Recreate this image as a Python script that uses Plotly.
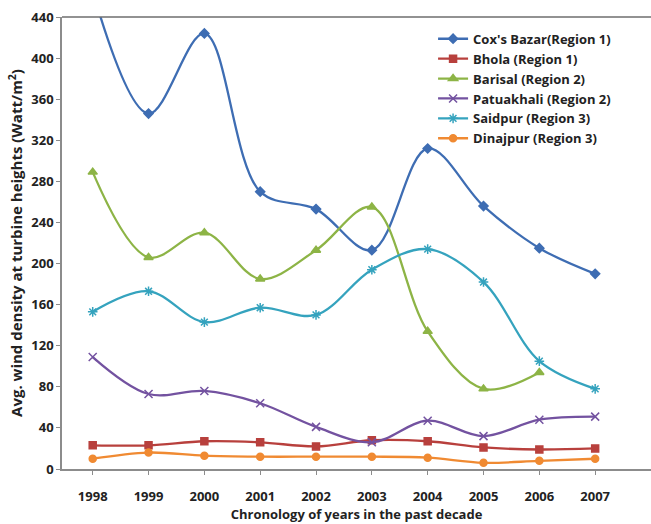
import plotly.graph_objects as go

years = [1998, 1999, 2000, 2001, 2002, 2003, 2004, 2005, 2006, 2007]

cox_bazar = [465, 346, 424, 270, 253, 213, 312, 256, 215, 190]
bhola = [23, 23, 27, 26, 22, 28, 27, 21, 19, 20]
barisal = [289, 206, 230, 185, 213, 255, 134, 78, 94, None]
patuakhali = [109, 73, 76, 64, 41, 26, 47, 32, 48, 51]
saidpur = [153, 173, 143, 157, 150, 194, 214, 182, 105, 78]
dinajpur = [10, 16, 13, 12, 12, 12, 11, 6, 8, 10]

y_ticks = list(range(0, 441, 40))

series = [
    ("Cox's Bazar(Region 1)", cox_bazar, "#3E6DB3", "diamond", 7),
    ("Bhola (Region 1)", bhola, "#B8403D", "square", 7),
    ("Barisal (Region 2)", barisal, "#8DB446", "triangle-up", 8),
    ("Patuakhali (Region 2)", patuakhali, "#7352A0", "x-thin-open", 8),
    ("Saidpur (Region 3)", saidpur, "#35A3BE", "asterisk-open", 8),
    ("Dinajpur (Region 3)", dinajpur, "#F08A32", "circle", 7),
]

fig = go.Figure()
for name, vals, color, symbol, size in series:
    fig.add_trace(go.Scatter(
        x=years, y=vals, name=name, mode="lines+markers",
        line=dict(color=color, width=2.3, shape="spline", smoothing=1.0),
        marker=dict(symbol=symbol, size=size, color=color,
                    line=dict(color=color, width=1.5)),
        connectgaps=False,
    ))

font_family = "Open Sans, Liberation Sans, Arial, sans-serif"
text_color = "#222222"

fig.update_layout(
    width=651, height=524,
    margin=dict(l=62, r=0, t=17, b=55),
    paper_bgcolor="white", plot_bgcolor="white",
    font=dict(family=font_family, size=13, color=text_color),
    showlegend=True,
    legend=dict(
        x=0.63, y=0.985, xanchor="left", yanchor="top",
        bgcolor="rgba(0,0,0,0)",
        font=dict(family=font_family, size=13, color=text_color, weight="bold"),
        tracegroupgap=0, itemwidth=30,
    ),
    xaxis=dict(
        range=[1997.45, 2008.0],
        tickmode="array", tickvals=years, ticktext=[str(y) for y in years],
        tickfont=dict(family=font_family, size=13, weight="bold", color=text_color),
        showgrid=False, zeroline=False,
        showline=True, linecolor="#8c8c8c", linewidth=1.5,
        ticks="outside", ticklen=4, tickcolor="#8c8c8c",
        ticklabelstandoff=11,
        title=dict(text="Chronology of years in the past decade",
                   font=dict(family=font_family, size=13, weight="bold", color=text_color),
                   standoff=0),
    ),
    yaxis=dict(
        range=[0, 440],
        tickmode="array", tickvals=y_ticks,
        tickfont=dict(family=font_family, size=13, weight="bold", color=text_color),
        showgrid=False, zeroline=False,
        showline=True, linecolor="#8c8c8c", linewidth=1.5,
        ticks="outside", ticklen=4, tickcolor="#8c8c8c",
        title=dict(text="Avg. wind density at turbine heights (Watt/m<sup>2</sup>)",
                   font=dict(family=font_family, size=15, weight="bold", color=text_color),
                   standoff=5),
    ),
    shapes=[dict(type="line", xref="paper", yref="y domain",
                 x0=0, x1=1, y0=1, y1=1,
                 line=dict(color="#6e6e6e", width=1.5))],
)

fig.write_html("out.html")
